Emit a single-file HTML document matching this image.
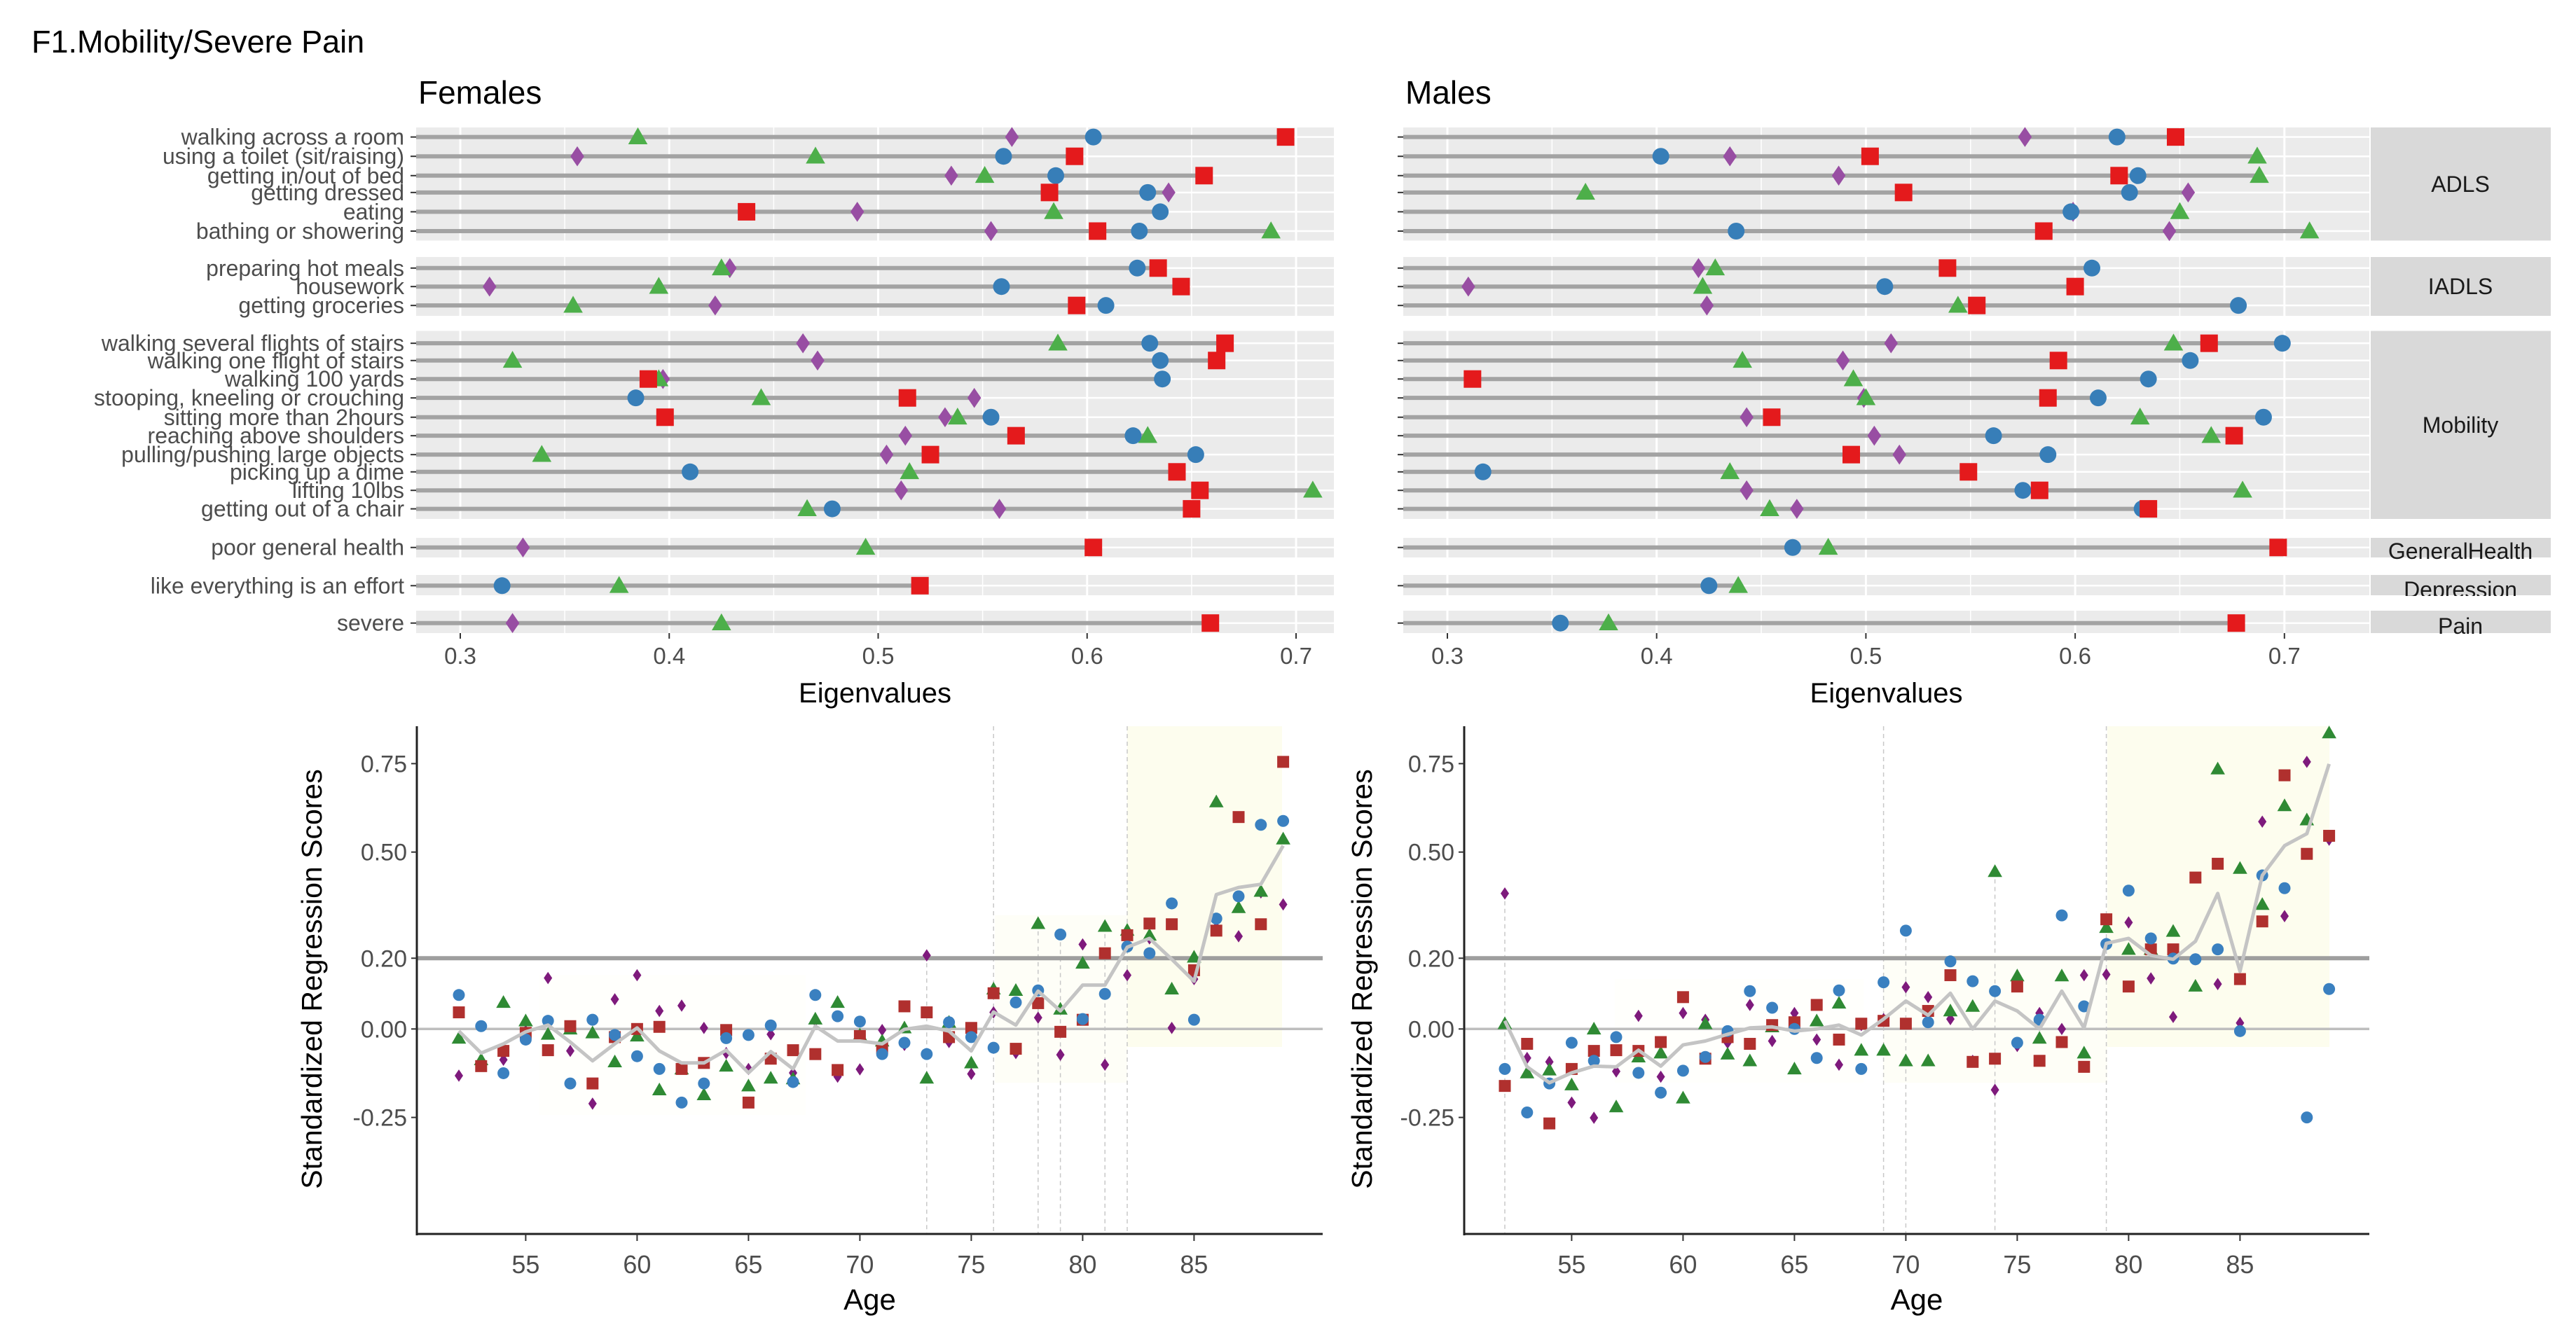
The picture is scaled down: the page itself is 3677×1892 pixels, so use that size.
<!DOCTYPE html>
<html><head><meta charset="utf-8"><style>
html,body{margin:0;padding:0;background:#fff;}
svg{display:block;font-family:"Liberation Sans",Arial,sans-serif;}
</style></head><body>
<svg id="fig" width="3677" height="1892" viewBox="0 0 3677 1892" xmlns="http://www.w3.org/2000/svg">
<defs>
<clipPath id="clipDep"><rect x="3383" y="815" width="260" height="36"/></clipPath>
</defs>
<rect x="0" y="0" width="3677" height="1892" fill="#fff"/>
<text x="45" y="75" font-size="45" fill="#000">F1.Mobility/Severe Pain</text>
<g id="topPanels"></g>
<g id="bottomPanels"></g>
</svg>
<script>
// ---------- Top dot-plot data ----------
const rowLabels = ["walking across a room","using a toilet (sit/raising)","getting in/out of bed","getting dressed","eating","bathing or showering",
"preparing hot meals","housework","getting groceries",
"walking several flights of stairs","walking one flight of stairs","walking 100 yards","stooping, kneeling or crouching","sitting more than 2hours","reaching above shoulders","pulling/pushing large objects","picking up a dime","lifting 10lbs","getting out of a chair",
"poor general health","like everything is an effort","severe"];
const groupNames = ["ADLS","IADLS","Mobility","GeneralHealth","Depression","Pain"];
const xTicksTop = [0.3,0.4,0.5,0.6,0.7];
const femBlue   = [.603,.560,.585,.629,.635,.625,.624,.559,.609,.630,.635,.636,.384,.554,.622,.652,.410,.654,.478,null,.320,null];
const femRed    = [.695,.594,.656,.582,.437,.605,.634,.645,.595,.666,.662,.390,.514,.398,.566,.525,.643,.654,.650,.603,.520,.659];
const femGreen  = [.385,.470,.551,null,.584,.688,.425,.395,.354,.586,.325,.395,.444,.538,.629,.339,.515,.708,.466,.494,.376,.425];
const femPurple = [.564,.356,.535,.639,.490,.554,.429,.314,.422,.464,.471,.397,.546,.532,.513,.504,null,.511,.558,.330,null,.325];
const malBlue   = [.620,.402,.630,.626,.598,.438,.608,.509,.678,.699,.655,.635,.611,.690,.561,.587,.317,.575,.632,.465,.425,.354];
const malRed    = [.648,.502,.621,.518,null,.585,.539,.600,.553,.664,.592,.312,.587,.455,.676,.493,.549,.583,.635,.697,null,.677];
const malGreen  = [null,.687,.688,.366,.650,.712,.428,.422,.544,.647,.441,.494,.500,.631,.665,null,.435,.680,.454,.482,.439,.377];
const malPurple = [.576,.435,.487,.654,.599,.645,.420,.310,.424,.512,.489,null,.499,.443,.504,.516,null,.443,.467,null,null,null];

// ---------- Bottom scatter data ----------
const ages = [52,53,54,55,56,57,58,59,60,61,62,63,64,65,66,67,68,69,70,71,72,73,74,75,76,77,78,79,80,81,82,83,84,85,86,87,88,89];
const yTicksBottom = [-0.25,0.00,0.20,0.50,0.75];
const yTickLabels = ["-0.25","0.00","0.20","0.50","0.75"];
const xTicksBottom = [55,60,65,70,75,80,85];
const fBlue = [.096,.008,-.125,-.030,.023,-.154,.026,-.017,-.077,-.113,-.208,-.154,-.026,-.017,.010,-.150,.096,.036,.021,-.071,-.039,-.071,.019,-.023,-.053,.075,.109,.267,.028,.099,.233,.214,.355,.026,.312,.375,.577,.588];
const fRed = [.047,-.105,-.062,-.011,-.060,.008,-.154,-.023,.000,.006,-.113,-.096,-.003,-.208,-.084,-.060,-.071,-.116,-.020,-.053,.064,.047,-.023,.003,.101,-.056,.073,-.008,.026,.214,.265,.298,.296,.166,.278,.599,.296,.755];
const fGreen = [-.026,-.087,.075,.023,-.015,.000,-.011,-.093,-.020,-.172,-.113,-.186,-.105,-.161,-.139,-.141,.028,.075,-.017,-.034,.003,-.139,.019,-.096,.113,.109,.298,.056,.186,.290,.279,.265,.113,.203,.642,.343,.389,.537];
const fPurple = [-.132,-.096,-.087,-.006,.144,-.062,-.211,.084,.152,.051,.066,.003,-.068,-.113,-.015,-.124,.023,-.135,-.114,-.003,-.045,.208,-.037,-.127,.047,-.068,.032,-.073,.239,-.101,.152,.256,.003,.141,.287,.262,.386,.352];
const fMean = [-.006,-.068,-.042,-.008,.011,-.037,-.090,-.042,.003,-.062,-.096,-.096,-.060,-.124,-.064,-.113,.008,-.034,-.034,-.042,-.001,.008,-.006,-.062,.048,.011,.107,.051,.124,.124,.231,.256,.197,.135,.380,.400,.409,.518];
const mBlue = [-.113,-.236,-.154,-.039,-.090,-.023,-.124,-.180,-.118,-.079,-.006,.107,.060,.000,-.082,.109,-.113,.132,.278,.019,.191,.135,.107,-.039,.026,.321,.064,.240,.391,.256,.199,.197,.225,-.006,.434,.398,-.250,.113];
const mRed = [-.161,-.042,-.267,-.113,-.062,-.060,-.062,-.037,.090,-.084,-.023,-.042,.011,.019,.068,-.030,.015,.023,.015,.051,.152,-.093,-.084,.120,-.090,-.037,-.107,.310,.120,.225,.225,.428,.467,.141,.304,.717,.495,.546];
const mGreen = [.015,-.124,-.116,-.158,.000,-.220,-.079,-.068,-.195,.015,-.071,-.090,.006,-.113,.023,.073,-.060,-.060,-.090,-.090,.051,.064,.445,.150,-.026,.150,-.068,.287,.225,.225,.276,.121,.735,.454,.352,.631,.591,.837];
const mPurple = [.383,-.082,-.093,-.208,-.251,-.120,.037,-.135,.045,.026,-.039,.068,-.034,.045,-.030,-.101,.011,.028,.118,.090,.028,-.090,-.172,-.048,.045,.000,.152,.154,.301,.143,.034,.197,.127,.017,.586,.319,.755,.535];
const mMean = [.023,-.107,-.152,-.124,-.105,-.107,-.060,-.105,-.045,-.034,-.015,.003,.006,-.006,.000,.011,-.017,.028,.079,.039,.101,.000,.079,.051,.000,.107,.003,.242,.256,.208,.197,.248,.383,.163,.434,.518,.552,.749];
const fDashAges = [73,76,78,79,81,82];
const fDashFrom = [.208,null,.298,.267,.290,null];
const mDashAges = [52,69,70,74,79];
const mDashFrom = [.383,null,.278,.445,null];

const NS = "http://www.w3.org/2000/svg";
function mk(tag, attrs, parent){const e=document.createElementNS(NS,tag);for(const k in attrs)e.setAttribute(k,attrs[k]);parent.appendChild(e);return e;}
const C = {blue:"#377EB8", red:"#E41A1C", green:"#4DAF4A", purple:"#984EA3"};
const C2 = {blue:"#3A80C0", red:"#B0302E", green:"#2F8A34", purple:"#7E1A7C"};

function marker(shape, cx, cy, s, color, parent){
  let e;
  if(shape==="circle"){e=mk("circle",{cx:cx,cy:cy,r:s,fill:color},parent);}
  else if(shape==="square"){e=mk("rect",{x:cx-s,y:cy-s,width:2*s,height:2*s,fill:color},parent);}
  else if(shape==="triangle"){const h=s*1.15;e=mk("polygon",{points:`${cx},${cy-h} ${cx+h},${cy+h*0.75} ${cx-h},${cy+h*0.75}`,fill:color},parent);}
  else {e=mk("polygon",{points:`${cx},${cy-s*1.1} ${cx+s*0.75},${cy} ${cx},${cy+s*1.1} ${cx-s*0.75},${cy}`,fill:color},parent);}
  return e;
}

// ----- top panels -----
const rowZ = [163,210,257,298,345,392,482,527,573,665,707,752,798,845,890,936,978,1023,1068,1162,1255,1346];
const rowY = rowZ.map(z=>100+z*0.5867);
const groupBands = [[182,343.5,0,6],[367,451,6,9],[472.5,741,9,19],[768,796,19,20],[821,850,20,21],[872,904,21,22]];
const topG = document.getElementById("topPanels");

function topPanel(name, x0, x1, t03, per01, blue, red, green, purple, showLabels, tag){
  const g = mk("g",{},topG);
  
  
  const sx = v => t03 + (v-0.3)/0.1*per01;
  const t = mk("text",{x:x0+3,y:148,"font-size":46,fill:"#000"},g);
  t.textContent = name;
  
  
  groupBands.forEach((b,gi)=>{
    const bg = mk("rect",{x:x0,y:b[0],width:x1-x0,height:b[1]-b[0],fill:"#EBEBEB"},g);
    
    
    [0.35,0.45,0.55,0.65].forEach(v=>mk("line",{x1:sx(v),x2:sx(v),y1:b[0],y2:b[1],stroke:"#fff","stroke-width":1.5},g));
    xTicksTop.forEach(v=>mk("line",{x1:sx(v),x2:sx(v),y1:b[0],y2:b[1],stroke:"#fff","stroke-width":3},g));
    for(let r=b[2];r<b[3];r++){
      mk("line",{x1:x0,x2:x1,y1:rowY[r],y2:rowY[r],stroke:"#fff","stroke-width":2.5},g);
    }
  });
  for(let r=0;r<rowLabels.length;r++){
    const vals=[blue[r],red[r],green[r],purple[r]].filter(v=>v!==null);
    const mx=Math.max(...vals);
    const seg = mk("line",{x1:x0,x2:sx(mx),y1:rowY[r],y2:rowY[r],stroke:"#A3A3A3","stroke-width":6},g);
    
    
    mk("line",{x1:x0-8,x2:x0,y1:rowY[r],y2:rowY[r],stroke:"#333","stroke-width":2},g);
    if(showLabels){
      const lt = mk("text",{x:x0-17,y:rowY[r]+11,"font-size":32,fill:"#4D4D4D","text-anchor":"end"},g);
      lt.textContent = rowLabels[r];
      
      
    }
    const series=[["diamond",purple,C.purple,13],["triangle",green,C.green,12],["circle",blue,C.blue,12],["square",red,C.red,12.5]];
    series.forEach(s=>{
      const v=s[1][r]; if(v===null) return;
      const m = marker(s[0], sx(v), rowY[r], s[3], s[2], g);
      
      
    });
  }
  xTicksTop.forEach(v=>{
    mk("line",{x1:sx(v),x2:sx(v),y1:904,y2:912,stroke:"#333","stroke-width":2},g);
    const tt = mk("text",{x:sx(v),y:948,"font-size":33,fill:"#4D4D4D","text-anchor":"middle"},g);
    tt.textContent = v.toFixed(1);
    
    
  });
  const xt = mk("text",{x:(x0+x1)/2,y:1003,"font-size":40,fill:"#000","text-anchor":"middle"},g);
  xt.textContent = "Eigenvalues";
  
  
  return g;
}
topPanel("Females",594,1904,657,298.25,femBlue,femRed,femGreen,femPurple,true,"females");
topPanel("Males",2003,3382,2066,298.7,malBlue,malRed,malGreen,malPurple,false,"males");
// strips
const stripG = mk("g",{},topG);
const stripCenters = [263,409,607,798,853,905];
groupBands.forEach((b,i)=>{
  const r = mk("rect",{x:3384,y:b[0],width:257,height:b[1]-b[0],fill:"#D9D9D9"},stripG);
  
  
});
groupNames.forEach((n,i)=>{
  const b=groupBands[i];
  let y = i<3 ? (b[0]+b[1])/2+11 : stripCenters[i];
  const t = mk("text",{x:3512,y:y,"font-size":32,fill:"#1A1A1A","text-anchor":"middle"},stripG);
  if(i===4){ t.setAttribute("clip-path","url(#clipDep)"); }
  t.textContent = n;
  
  
});

// ----- bottom panels -----
const bottomG = document.getElementById("bottomPanels");
const yB = v => 1469.3 - v*505.2;
function bottomPanel(tag, ax0, ax1, age52x, blue, red, green, purple, mean, dashAges, dashFrom, shades, ylabX){
  const g = mk("g",{},bottomG);
  
  
  const xA = a => age52x + (a-52)*31.8;
  shades.forEach(s=>{
    const r = mk("rect",{x:s[0],y:s[1],width:s[2]-s[0],height:s[3]-s[1],fill:s[4]},g);
    
    
  });
  dashAges.forEach((a,i)=>{
    const y1 = dashFrom[i]===null ? 1037 : yB(dashFrom[i]);
    const l = mk("line",{x1:xA(a),x2:xA(a),y1:y1,y2:1762,stroke:"#C8C8C8","stroke-width":1.5,"stroke-dasharray":"6 5"},g);
    
    
  });
  const h0 = mk("line",{x1:ax0,x2:ax1,y1:yB(0),y2:yB(0),stroke:"#BEBEBE","stroke-width":3.5},g);
  
  
  const h2 = mk("line",{x1:ax0,x2:ax1,y1:yB(0.2),y2:yB(0.2),stroke:"#9E9E9E","stroke-width":6},g);
  
  
  const series=[["diamond",purple,C2.purple,8],["triangle",green,C2.green,9],["square",red,C2.red,8.5],["circle",blue,C2.blue,8.5]];
  series.forEach(s=>{
    ages.forEach((a,i)=>{
      const v=s[1][i]; if(v===null) return;
      const m = marker(s[0], xA(a), yB(v), s[3], s[2], g);
      
      
    });
  });
  const pts = ages.map((a,i)=>xA(a)+","+yB(mean[i])).join(" ");
  const pl = mk("polyline",{points:pts,fill:"none",stroke:"#C4C4C4","stroke-width":5,"stroke-linejoin":"round"},g);
  
  
  mk("line",{x1:ax0,x2:ax0,y1:1037,y2:1764,stroke:"#222","stroke-width":3},g);
  mk("line",{x1:ax0,x2:ax1,y1:1762,y2:1762,stroke:"#222","stroke-width":3},g);
  yTicksBottom.forEach((v,i)=>{
    mk("line",{x1:ax0-8,x2:ax0,y1:yB(v),y2:yB(v),stroke:"#333","stroke-width":2},g);
    const t = mk("text",{x:ax0-14,y:yB(v)+12,"font-size":34,fill:"#4D4D4D","text-anchor":"end"},g);
    t.textContent = yTickLabels[i];
    
    
  });
  xTicksBottom.forEach(a=>{
    mk("line",{x1:xA(a),x2:xA(a),y1:1762,y2:1772,stroke:"#333","stroke-width":2},g);
    const t = mk("text",{x:xA(a),y:1818,"font-size":36,fill:"#4D4D4D","text-anchor":"middle"},g);
    t.textContent = a;
    
    
  });
  const xt = mk("text",{x:(ax0+ax1)/2,y:1870,"font-size":42,fill:"#000","text-anchor":"middle"},g);
  xt.textContent = "Age";
  
  
  const yt = mk("text",{x:0,y:0,"font-size":41,fill:"#000","text-anchor":"middle",transform:`translate(${ylabX},1398) rotate(-90)`},g);
  yt.textContent = "Standardized Regression Scores";
  
  
}
bottomPanel("females",595,1888,655,fBlue,fRed,fGreen,fPurple,fMean,fDashAges,fDashFrom,
  [[770,1392,1150,1592,"#FFFFFC"],[1420,1307,1609,1546,"#FEFEF7"],[1609,1037,1830,1495,"#FDFDEE"]],459);
bottomPanel("males",2090,3382,2148,mBlue,mRed,mGreen,mPurple,mMean,mDashAges,mDashFrom,
  [[2305,1398,2660,1546,"#FFFFFC"],[2688,1364,3008,1546,"#FEFEF7"],[3008,1037,3325,1495,"#FDFDEE"]],1958);
</script>
</body></html>
